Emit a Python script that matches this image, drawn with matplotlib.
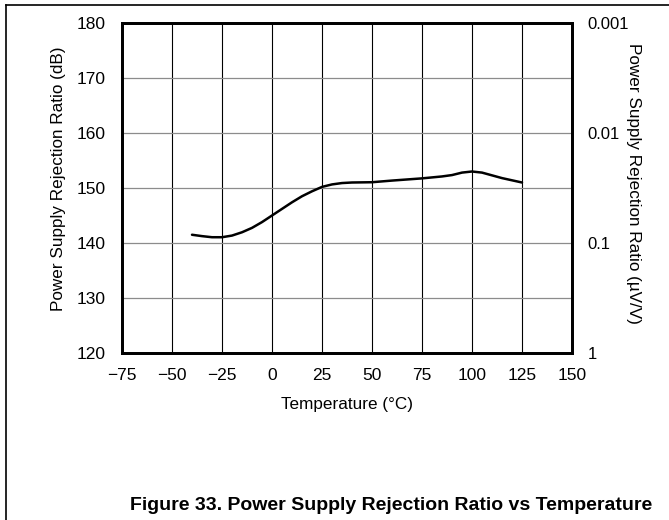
import numpy as np
import matplotlib
matplotlib.use("Agg")
import matplotlib.pyplot as plt
from matplotlib.lines import Line2D

# PSRR vs temperature
temp_c = [-40, -35, -30, -25, -20, -15, -10, -5, 0, 5, 10, 15, 20, 25, 30, 35,
          40, 50, 60, 75, 85, 90, 95, 100, 105, 110, 115, 125]
psrr_db = [141.5, 141.25, 141.05, 141.05, 141.35, 141.95, 142.75, 143.8, 145.0,
           146.2, 147.4, 148.5, 149.4, 150.2, 150.65, 150.9, 151.0, 151.05,
           151.35, 151.75, 152.1, 152.35, 152.8, 153.0, 152.8, 152.3, 151.8, 151.0]

x_ticks = [-75, -50, -25, 0, 25, 50, 75, 100, 125, 150]
x_labels = ["\u221275", "\u221250", "\u221225", "0", "25", "50", "75", "100", "125", "150"]
y_ticks = [120, 130, 140, 150, 160, 170, 180]
right_ticks = [0.001, 0.01, 0.1, 1]
right_labels = ["0.001", "0.01", "0.1", "1"]

plt.rcParams['font.family'] = ['Liberation Sans', 'DejaVu Sans']

W, H = 669, 520
fig = plt.figure(figsize=(W / 100, H / 100), dpi=100)
ax = fig.add_axes([122 / W, 1 - 353 / H, 450 / W, 330 / H])

# grid: vertical black, horizontal grey
for xv in x_ticks[1:-1]:
    ax.axvline(xv, color='black', linewidth=0.8, zorder=1)
for yv in y_ticks[1:-1]:
    ax.axhline(yv, color='#8c8c8c', linewidth=0.9, zorder=1)

ax.plot(temp_c, psrr_db, color='black', linewidth=1.8, zorder=3,
        solid_joinstyle='round', solid_capstyle='round')

ax.set_xlim(-75, 150)
ax.set_ylim(120, 180)
ax.set_xticks(x_ticks)
ax.set_xticklabels(x_labels)
ax.set_yticks(y_ticks)
ax.tick_params(axis='x', length=0, labelsize=12.5, pad=11)
ax.tick_params(axis='y', length=0, labelsize=12.5, pad=12)
ax.set_xlabel("Temperature (\u00b0C)", fontsize=12.3)
ax.xaxis.set_label_coords(0.5, -(404 - 353) / 330)
ax.xaxis.label.set_va('center')
ax.set_ylabel("Power Supply Rejection Ratio (dB)", fontsize=12.3,
              ha='center', va='center')
ax.yaxis.set_label_coords((58 - 122) / 450, (353 - 179) / 330)
for sp in ax.spines.values():
    sp.set_linewidth(2)

ax2 = ax.twinx()
ax2.set_yscale('log')
ax2.set_ylim(1, 0.001)
ax2.set_yticks(right_ticks)
ax2.set_yticklabels(right_labels)
ax2.minorticks_off()
ax2.tick_params(length=0, labelsize=12, pad=11)
ax2.set_ylabel("Power Supply Rejection Ratio (\u00b5V/V)", fontsize=12.3,
               rotation=270, ha='center', va='center')
ax2.yaxis.set_label_coords((634 - 122) / 450, (353 - 183) / 330)
for sp in ax2.spines.values():
    sp.set_linewidth(2)

# page frame lines (top and left)
fig.add_artist(Line2D([6 / W, 1], [1 - 5 / H, 1 - 5 / H], color='black',
                      linewidth=1.2, transform=fig.transFigure))
fig.add_artist(Line2D([6 / W, 6 / W], [0, 1 - 5 / H], color='black',
                      linewidth=1.2, transform=fig.transFigure))

fig.text(652 / W, 1 - 510 / H,
         "Figure 33. Power Supply Rejection Ratio vs Temperature",
         ha='right', va='baseline', fontsize=14, fontweight='bold')

fig.savefig("out.png", dpi=100)
